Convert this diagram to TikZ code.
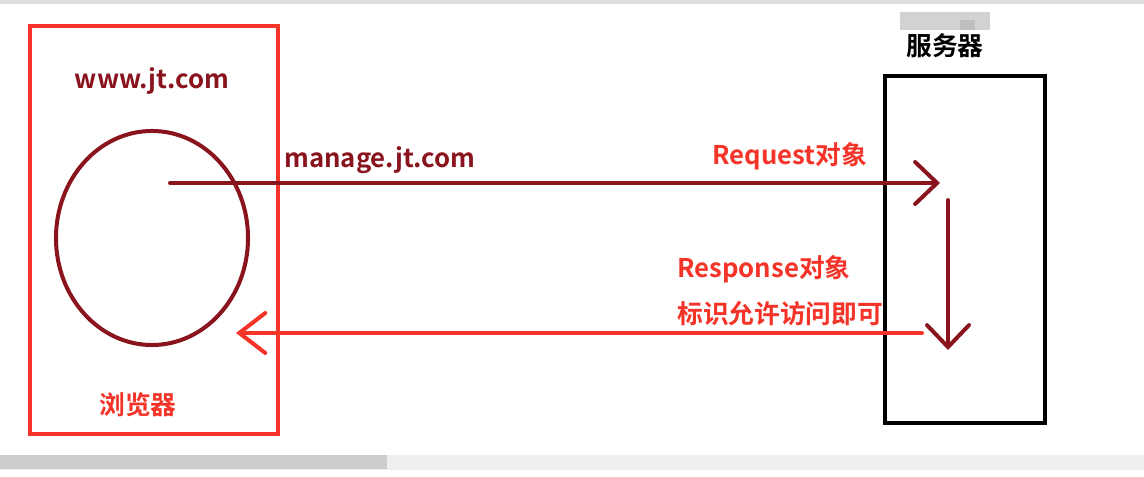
\documentclass[tikz,border=0pt]{standalone}
\usepackage{fontspec}
\setmainfont{Noto Sans CJK SC}[BoldFont={* Bold}]
\usetikzlibrary{arrows.meta,shapes.geometric}

\definecolor{brightred}{RGB}{244,52,40}
\definecolor{darkred}{RGB}{138,20,30}
\definecolor{barbg}{RGB}{239,239,239}
\definecolor{barthumb}{RGB}{205,205,205}

\tikzset{
  lbl/.style={font=\bfseries\fontsize{18.3pt}{21pt}\selectfont, inner sep=0pt},
  link/.style={line width=1mm, line cap=round,
    -{Straight Barb[length=5.5mm,width=10.5mm,line cap=round]}},
}

\begin{document}
\begin{tikzpicture}[x=0.025cm,y=-0.025cm]
      \useasboundingbox (0,0) rectangle (1144,477);
      \fill[white] (0,0) rectangle (1144,477);
      \fill[blue!8!gray!25] (0,0) rectangle (1144,4);
      \fill[barbg] (0,455) rectangle (1144,470);
      \fill[barthumb] (0,455) rectangle (387,469);
      \fill[gray!35] (900,12) rectangle (990,30);
      \fill[gray!50] (960,20) rectangle (975,30);

      \begin{scope}[every node/.style={draw, line width=1mm, inner sep=0pt}]
        \node[brightred, minimum width=6.2cm, minimum height=10.22cm] (browser) at (154,230) {};
        \node[black, minimum width=4cm, minimum height=8.68cm] (server) at (965,249.5) {};
        \node[darkred, ellipse, minimum width=4.8cm, minimum height=5.35cm] (page) at (152,238) {};
      \end{scope}

      \begin{scope}[every node/.style={lbl}]
        \node[darkred, anchor=base] (host) at (152,89) {www.jt.com};
        \node[brightred] (browsername) at (138,405) {浏览器};
        \node[black] (servername) at (945,46) {服务器};
        \node[darkred, anchor=base west] (target) at (284,168) {manage.jt.com};
        \node[brightred, anchor=base west] (req) at (712,165) {Request对象};
        \node[brightred, anchor=base west] (resp) at (677,278) {Response对象};
        \node[brightred, anchor=west] (allow) at (677,314) {标识允许访问即可};
      \end{scope}

      \coordinate (reqS) at (170,183);
      \coordinate (reqE) at (940,183);
      \coordinate (doS) at (948,200);
      \coordinate (doE) at (948,350);
      \coordinate (respS) at (922,333);
      \coordinate (respE) at (236,333);

      \begin{scope}[every path/.style={link}]
        \path[draw=darkred] (reqS) -- (reqE);
        \path[draw=darkred] (doS) -- (doE);
        \path[draw=brightred, -{Straight Barb[length=6.5mm,width=10mm,line cap=round]}] (respS) -- (respE);
      \end{scope}

    \end{tikzpicture}
\end{document}
